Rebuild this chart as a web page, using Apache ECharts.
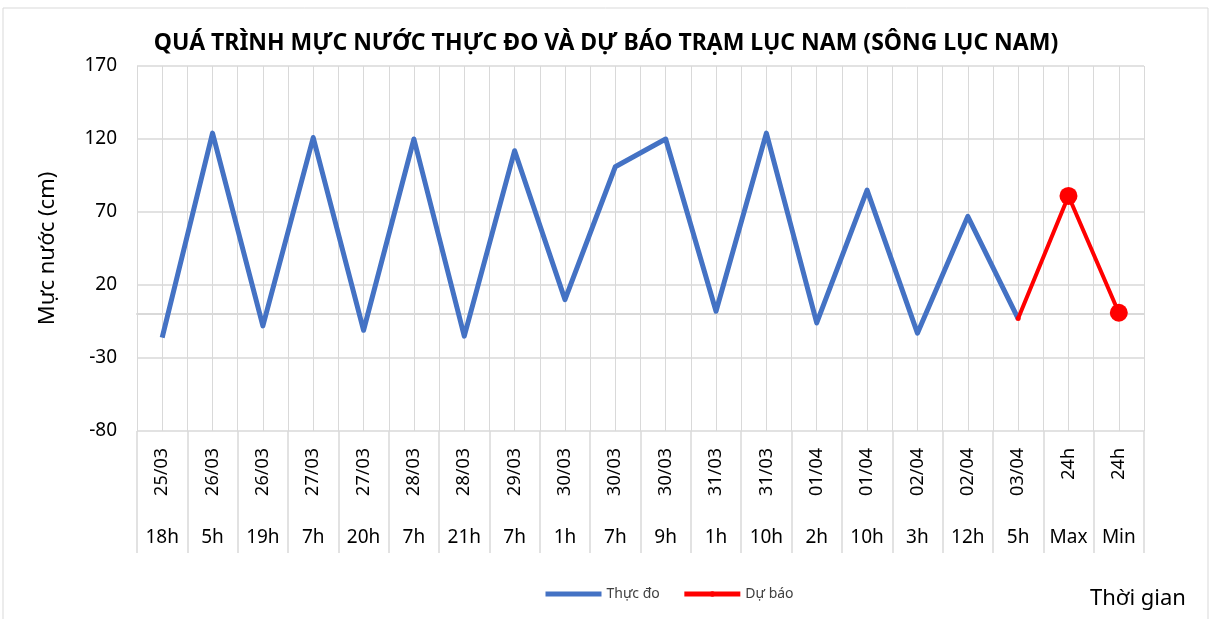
<!DOCTYPE html>
<html>
<head>
<meta charset="utf-8">
<script src="https://cdn.jsdelivr.net/npm/echarts@6/dist/echarts.min.js"></script>
<style>
    html, body { margin: 0; padding: 0; background: #fff; }
    #main { width: 1214px; height: 619px; }
</style>
</head>
<body>
<div id="main"></div>
<script>
// 数据
var ngay = ['25/03', '26/03', '26/03', '27/03', '27/03', '28/03', '28/03', '29/03', '30/03', '30/03',
    '30/03', '31/03', '31/03', '01/04', '01/04', '02/04', '02/04', '03/04', '24h', '24h'];
var gio = ['18h', '5h', '19h', '7h', '20h', '7h', '21h', '7h', '1h', '7h',
    '9h', '1h', '10h', '2h', '10h', '3h', '12h', '5h', 'Max', 'Min'];
var thucDo = [-16, 124, -8, 121, -11, 120, -15, 112, 10, 101,
    120, 2, 124, -6, 85, -13, 67, -3, null, null];
var duBao = [null, null, null, null, null, null, null, null, null, null,
    null, null, null, null, null, null, null, -3, 81, 1];
var yTicks = [-80, -30, 20, 70, 120, 170];

var font = '"Noto Sans", sans-serif';
var grey = '#d9d9d9';

var main = document.getElementById('main');
var chart = echarts.init(main);

var option = {
    animation: false,
    title: {
        text: 'QUÁ TRÌNH MỰC NƯỚC THỰC ĐO VÀ DỰ BÁO TRẠM LỤC NAM (SÔNG LỤC NAM)',
        left: 601,
        top: 27,
        textAlign: 'center',
        textStyle: { fontFamily: font, fontWeight: 'bold', fontSize: 23, color: '#000' }
    },
    legend: {
        left: 538,
        top: 582,
        itemGap: 22,
        itemWidth: 56,
        itemHeight: 7,
        textStyle: { fontFamily: font, fontSize: 14, color: '#404040' },
        data: [
            { name: 'Thực đo', itemStyle: { color: 'transparent', borderWidth: 0 }, lineStyle: { width: 5 } },
            { name: 'Dự báo', lineStyle: { width: 5 } }
        ]
    },
    graphic: [
        {
            type: 'rect',
            shape: { x: 3, y: 8, width: 1205, height: 640 },
            style: { fill: null, stroke: grey, lineWidth: 1 },
            silent: true
        },
        {
            type: 'text',
            left: 1090,
            top: 588,
            style: { text: 'Thời gian', font: '22px ' + font, fill: '#000' }
        }
    ],
    grid: [
        { left: 137, right: 70, top: 66, bottom: 188 },
        // ô nhãn trục hoành
        { left: 137, right: 70, top: 431, height: 122 }
    ],
    xAxis: [
        {
            type: 'category',
            gridIndex: 0,
            data: ngay,
            position: 'bottom',
            axisLine: { lineStyle: { color: grey, width: 2 } },
            axisTick: { show: false },
            axisLabel: { interval: 0, rotate: 90, margin: 17, fontFamily: font, fontSize: 18, color: '#000' },
            splitLine: { show: false }
        },
        {
            type: 'category',
            gridIndex: 0,
            data: gio,
            position: 'bottom',
            axisLine: { show: false },
            axisTick: { show: false },
            axisLabel: { interval: 0, margin: 97, fontFamily: font, fontSize: 19, color: '#000' },
            splitLine: { show: false }
        },
        {
            // 竖向网格线
            type: 'value',
            gridIndex: 0,
            min: 0,
            max: ngay.length,
            interval: 0.5,
            position: 'top',
            axisLine: { show: false },
            axisTick: { show: false },
            axisLabel: { show: false },
            splitLine: { show: true, lineStyle: { color: grey, width: 1 } }
        },
        {
            // 分隔线
            type: 'category',
            gridIndex: 1,
            data: gio,
            axisLine: { show: false },
            axisTick: { show: false },
            axisLabel: { show: false },
            splitLine: { show: true, interval: 0, lineStyle: { color: grey, width: 1.5 } }
        }
    ],
    yAxis: [
        {
            type: 'value',
            gridIndex: 0,
            min: yTicks[0],
            max: yTicks[yTicks.length - 1],
            name: 'Mực nước (cm)',
            nameLocation: 'middle',
            nameGap: 78,
            nameTextStyle: { fontFamily: font, fontSize: 22, color: '#000' },
            axisLine: { show: false },
            axisTick: { show: false, customValues: yTicks },
            axisLabel: { customValues: yTicks, margin: 20, fontFamily: font, fontSize: 19, color: '#000' },
            splitLine: { show: false }
        },
        {
            // 横向网格线
            type: 'value',
            gridIndex: 0,
            min: 0,
            max: yTicks[yTicks.length - 1] - yTicks[0],
            interval: yTicks[1] - yTicks[0],
            axisLine: { show: false },
            axisTick: { show: false },
            axisLabel: { show: false },
            splitLine: { show: true, lineStyle: { color: grey, width: 1.5 } }
        },
        {
            type: 'value',
            gridIndex: 1,
            show: false
        }
    ],
    series: [
        {
            name: 'Thực đo',
            type: 'line',
            xAxisIndex: 0,
            yAxisIndex: 0,
            data: thucDo,
            symbol: 'none',
            lineStyle: { color: '#4472C4', width: 5, join: 'round' },
            itemStyle: { color: '#4472C4' },
            z: 3
        },
        {
            name: 'Dự báo',
            type: 'line',
            xAxisIndex: 0,
            yAxisIndex: 0,
            data: duBao,
            symbol: 'circle',
            symbolSize: function (v, p) { return p.dataIndex === 17 ? 5 : 18; },
            showAllSymbol: true,
            lineStyle: { color: '#FF0000', width: 4 },
            itemStyle: { color: '#FF0000' },
            z: 4
        }
    ]
};

chart.setOption(option);
</script>
</body>
</html>
